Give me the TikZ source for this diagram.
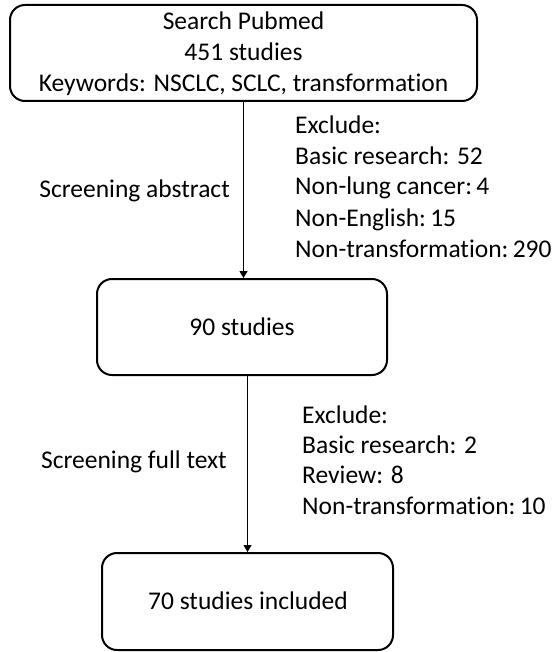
\documentclass[tikz,border=0pt]{standalone}
\usepackage{fontspec}
\setmainfont{Carlito}[Ligatures=NoCommon]
\usetikzlibrary{arrows.meta}
\begin{document}
\begin{tikzpicture}[x=1pt,y=-1pt,
  box/.style={draw=black, line width=2pt, rounded corners=15pt, inner sep=0pt},
  txt/.style={inner sep=0pt, font=\fontsize{25.5}{31}\selectfont, text=black},
  arr/.style={draw=black, line width=1.1pt, -{Triangle[length=7pt,width=8pt]}}]
\useasboundingbox (0,0) rectangle (552,652);
% boxes
\node[box, minimum width=467pt, minimum height=96pt] (b1) at (243.5,53) {};
\node[box, minimum width=290pt, minimum height=96pt] (b2) at (242,327) {};
\node[box, minimum width=291pt, minimum height=97pt] (b3) at (247.5,601.5) {};
% box texts
\node[txt, anchor=base] (t1a) at (243.5,30) {Search Pubmed};
\node[txt, anchor=base] (t1b) at (243.5,61) {451 studies};
\node[txt, anchor=base] (t1c) at (243.5,92) {Keywords: NSCLC, SCLC, transformation};
\node[txt, anchor=base] (t2) at (242,335) {90 studies};
\node[txt, anchor=base] (t3) at (248,609) {70 studies included};
% arrows
\draw[arr] (b1.south) -- (b1.south |- b2.north);
\draw[arr] (b3.north |- b2.south) -- (b3.north);
% side labels
\node[txt, anchor=base east] (s1) at (230,198) {Screening abstract};
\node[txt, anchor=base east] (s2) at (227,468) {Screening full text};
% exclusion lists
\node[txt, anchor=base west] (e1a) at (295,134) {Exclude:};
\node[txt, anchor=base west] (e1b) at (295,165) {Basic research: 52};
\node[txt, anchor=base west] (e1c) at (295,195) {Non-lung cancer:\,4};
\node[txt, anchor=base west] (e1d) at (295,226) {Non-English:\,15};
\node[txt, anchor=base west] (e1e) at (295,257) {Non-transformation:\,290};
\node[txt, anchor=base west] (e2a) at (302,423) {Exclude:};
\node[txt, anchor=base west] (e2b) at (302,453) {Basic research: 2};
\node[txt, anchor=base west] (e2c) at (302,483) {Review: 8};
\node[txt, anchor=base west] (e2d) at (302,514) {Non-transformation:\,10};
\end{tikzpicture}
\end{document}
